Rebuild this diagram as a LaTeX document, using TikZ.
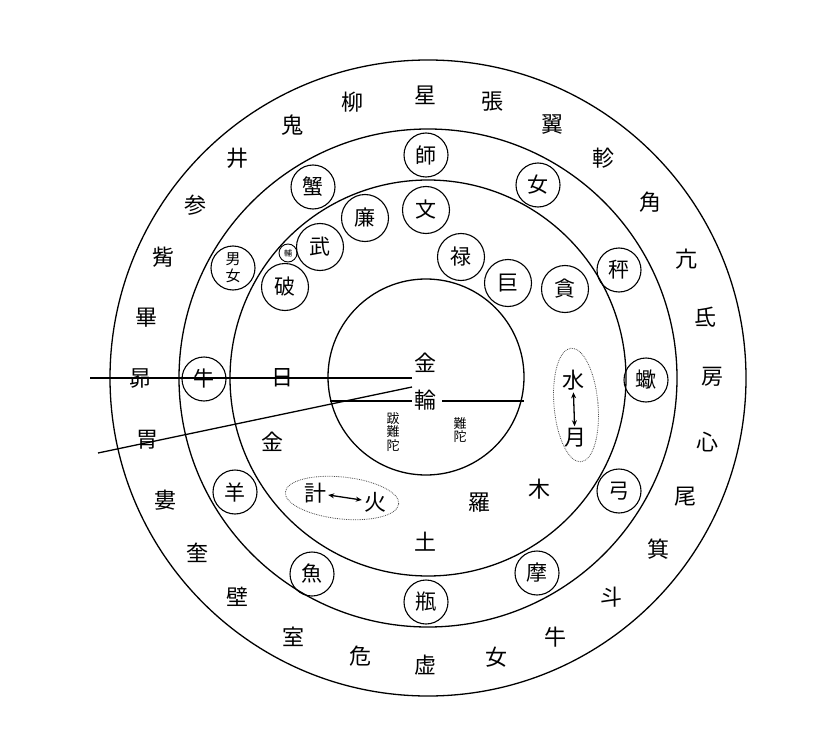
\documentclass[tikz,border=0pt]{standalone}
\usepackage{fontspec}
\setmainfont{Noto Sans CJK JP}
\usetikzlibrary{arrows.meta,calc}
\begin{document}
\begin{tikzpicture}[x=1pt,y=1pt,
  lbl/.style={font=\fontsize{22}{22}\selectfont, inner sep=0pt},
  ringline/.style={line width=1.3pt},
  zod/.style={circle, draw, line width=1.1pt, minimum size=44pt, inner sep=0pt, font=\fontsize{21}{21}\selectfont},
  star/.style={circle, draw, line width=1.1pt, minimum size=47pt, inner sep=0pt, font=\fontsize{21}{21}\selectfont},
  tiny/.style={circle, draw, line width=0.9pt, minimum size=18pt, inner sep=0pt, font=\fontsize{8}{8}\selectfont},
  small/.style={inner sep=0pt, align=center, font=\fontsize{13}{13.5}\selectfont},
  axis/.style={line width=1.3pt},
  dot/.style={densely dotted, line width=0.8pt, black!70},
  twoway/.style={{Stealth[length=6pt,width=5pt]}-{Stealth[length=6pt,width=5pt]}, line width=1.3pt, shorten <=2pt, shorten >=2pt}]
\fill[white] (0,0) rectangle (830,-749);
\useasboundingbox (0,0) rectangle (830,-749);
% rings
\coordinate (O) at (428,-378);
\coordinate (C) at (426,-377);
\draw[ringline] (O) circle (318);
\draw[ringline] (O) circle (249);
\draw[ringline] (O) circle (198);
\draw[ringline] (C) circle (98);
% 28 mansions
\node[lbl] (m0) at (712,-377) {房};
\node[lbl] (m1) at (707,-442) {心};
\node[lbl] (m2) at (685,-497) {尾};
\node[lbl] (m3) at (658,-549) {箕};
\node[lbl] (m4) at (611,-597) {斗};
\node[lbl] (m5) at (555,-637) {牛};
\node[lbl] (m6) at (496,-657) {女};
\node[lbl] (m7) at (425,-665) {虚};
\node[lbl] (m8) at (360,-656) {危};
\node[lbl] (m9) at (293,-637) {室};
\node[lbl] (m10) at (237,-597) {壁};
\node[lbl] (m11) at (197,-553) {奎};
\node[lbl] (m12) at (165,-500) {婁};
\node[lbl] (m13) at (147,-440) {胃};
\node[lbl] (m14) at (140,-378) {昴};
\node[lbl] (m15) at (146,-318) {畢};
\node[lbl] (m16) at (163,-257) {觜};
\node[lbl] (m17) at (195,-205) {参};
\node[lbl] (m18) at (237,-158) {井};
\node[lbl] (m19) at (292,-125) {鬼};
\node[lbl] (m20) at (352,-102) {柳};
\node[lbl] (m21) at (425,-95) {星};
\node[lbl] (m22) at (492,-102) {張};
\node[lbl] (m23) at (552,-125) {翼};
\node[lbl] (m24) at (603,-158) {軫};
\node[lbl] (m25) at (650,-202) {角};
\node[lbl] (m26) at (686,-259) {亢};
\node[lbl] (m27) at (705,-317) {氐};
% zodiac
\node[zod] (z0) at (646,-380) {蠍};
\node[zod] (z1) at (619,-270) {秤};
\node[zod] (z2) at (538,-185) {女};
\node[zod] (z3) at (426,-155) {師};
\node[zod] (z4) at (313,-187) {蟹};
\node[zod, align=center, font=\fontsize{15}{17}\selectfont] (z5) at (233,-268) {男\\女};
\node[zod] (z6) at (204,-379) {牛};
\node[zod] (z7) at (235,-492) {羊};
\node[zod] (z8) at (312,-574) {魚};
\node[zod] (z9) at (426,-602) {瓶};
\node[zod] (z10) at (537,-573) {摩};
\node[zod] (z11) at (619,-491) {弓};
% seven stars
\node[star] (s1) at (426,-210) {文};
\node[star] (s2) at (365,-218) {廉};
\node[star] (s3) at (320,-247) {武};
\node[tiny] (s4) at (288,-253) {輔};
\node[star] (s5) at (285,-287) {破};
\node[star] (s6) at (461,-257) {禄};
\node[star] (s7) at (508,-283) {巨};
\node[star] (s8) at (565,-289) {貪};
% planets
\node[lbl] (p1) at (282,-378) {日};
\node[lbl] (p2) at (272,-442) {金};
\node[lbl] (p3) at (573,-380) {水};
\node[lbl] (p4) at (575,-438) {月};
\node[lbl] (p5) at (315,-493) {計};
\node[lbl] (p6) at (375,-502) {火};
\node[lbl] (p7) at (479,-503) {羅};
\node[lbl] (p8) at (539,-489) {木};
\node[lbl] (p9) at (425,-542) {土};
\draw[twoway] (p3) -- (p4);
\draw[twoway] (p5) -- (p6);
\draw[dot, rotate around={5:(576,-405)}] (576,-405) ellipse (22 and 57);
\draw[dot, rotate around={-6:(342,-498)}] (342,-498) ellipse (57 and 21);
% centre
\node[lbl] (k1) at (425,-363) {金};
\node[lbl] (k2) at (425,-400) {輪};
\node[small] (n1) at (393,-432) {跋\\難\\陀};
\node[small] (n2) at (460,-430) {難\\陀};
% lines
\coordinate (h0) at (90,-378);
\coordinate (h1) at (412,-378);
\coordinate (s0) at (98,-453);
\coordinate (sE) at (412,-387);
\coordinate (c0) at (330,-401);
\coordinate (cL) at (412,-401);
\coordinate (cR) at (442,-401);
\coordinate (c1) at (524,-401);
\draw[axis] (h0) -- (h1);
\draw[axis] (s0) -- (sE);
\draw[axis] (c0) -- (cL);
\draw[axis] (cR) -- (c1);
\end{tikzpicture}
\end{document}
